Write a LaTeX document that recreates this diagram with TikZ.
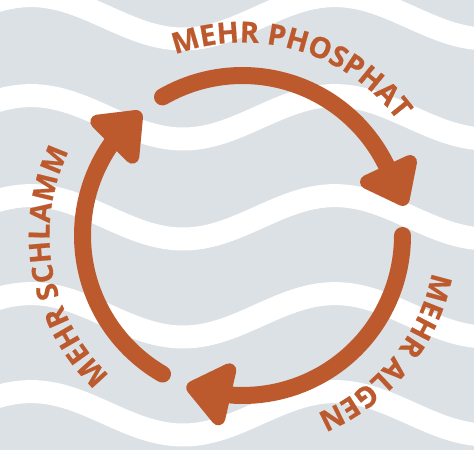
\documentclass[tikz,border=0pt]{standalone}
\usepackage{fontspec}
\usetikzlibrary{decorations.text}
\newfontfamily\wavefont{Open Sans}[UprightFont=* Bold,BoldFont=* Bold,FakeBold=0.6]
\definecolor{rust}{HTML}{BD5A2D}
\definecolor{water}{HTML}{DCE1E5}
\tikzset{
  shaft/.style={draw=rust,line width=17pt,line cap=round},
  headtip/.style={fill=rust,draw=rust,line width=14pt,line join=round},
  band/.style={draw=white,line width=23pt},
  curved/.style={decorate,decoration={text along path,text align={fit to path},text color=rust,
    text={|\wavefont\fontsize{29}{30}\selectfont|#1}}}
}
\begin{document}
\begin{tikzpicture}[x=1pt,y=1pt]
\useasboundingbox (0,0) rectangle (474,450);
\clip (0,0) rectangle (474,450);
\fill[water] (0,0) rectangle (474,450);
\foreach \p in {7,107,207,305,403}{
  \draw[band] plot[domain=-20:500,samples=130,smooth] (\x,{450-(\p+10.3-21.7*cos(1.1842*(\x-31)))});
}
\coordinate (c) at (242.5,214.5);
\draw[shaft] (c) ++(120:160) arc[start angle=120,end angle=22,radius=160];
\draw[shaft] (c) ++(0:160) arc[start angle=0,end angle=-94,radius=160];
\draw[shaft] (c) ++(-120:160) arc[start angle=-120,end angle=-219,radius=160];
\filldraw[headtip] (410,288) -- (402.7,251) -- (367,268) -- cycle;
\filldraw[headtip] (229.3,79.7) -- (193.3,62.3) -- (218.3,31.7) -- cycle;
\filldraw[headtip] (136,333) -- (97.3,328.3) -- (132.3,293.3) -- cycle;
\path[curved={MEHR PHOSPHAT}] (c) ++(110.4:193) arc[start angle=110.4,end angle=37,radius=193];
\path[curved={MEHR ALGEN}] (c) ++(-11:193) arc[start angle=-11,end angle=-66.5,radius=193];
\path[curved={MEHR SCHLAMM}] (c) ++(-133.5:193) arc[start angle=-133.5,end angle=-206,radius=193];
\end{tikzpicture}
\end{document}
